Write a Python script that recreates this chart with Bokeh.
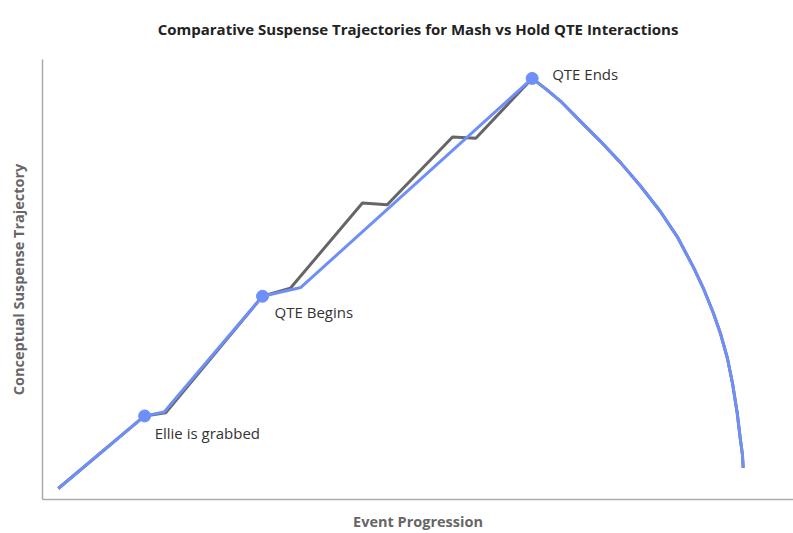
from bokeh.plotting import figure
from bokeh.models import ColumnDataSource, Range1d
from bokeh.embed import file_html
from bokeh.resources import INLINE
from bokeh.core.properties import value

# Event progression (x) and conceptual suspense (y)
descent_x = [67.1, 69.0, 71.6, 74.3, 77.0, 79.6, 82.3, 84.6, 86.7, 88.0,
             89.3, 90.3, 91.2, 91.9, 92.5, 92.9, 93.2, 93.3]
descent_y = [93.2, 90.5, 86.0, 81.4, 76.5, 71.3, 65.4, 59.5, 52.7, 48.0,
             42.5, 37.6, 32.1, 26.2, 19.7, 14.0, 10.2, 7.2]

hold_x = [2.1, 13.6, 16.2, 29.3, 34.4, 65.2] + descent_x
hold_y = [2.5, 19.0, 19.9, 46.2, 48.2, 95.7] + descent_y

mash_x = [2.1, 13.6, 16.4, 29.3, 33.0, 42.6, 45.9, 54.6, 57.7, 65.2] + descent_x
mash_y = [2.5, 19.0, 19.7, 46.2, 48.0, 67.4, 67.0, 82.4, 82.1, 95.7] + descent_y

event_labels = ["Ellie is grabbed", "QTE Begins", "QTE Ends"]
event_x = [13.6, 29.3, 65.2]
event_y = [19.0, 46.2, 95.7]

label_dx = [10, 12, 20]
label_dy = [17, 16, -4]

BLUE = "#6f8ff8"
GREY = "#666666"
FONT = "Open Sans"

p = figure(width=793, height=533, output_backend="svg", toolbar_location=None,
           x_range=Range1d(0, 100), y_range=Range1d(0, 100),
           min_border_left=42, min_border_right=0, min_border_top=58,
           min_border_bottom=33,
           title="Comparative Suspense Trajectories for Mash vs Hold QTE Interactions")
p.title.align = "center"
p.title.vertical_align = "top"
p.title.text_font = FONT
p.title.text_font_size = "15px"
p.title.text_font_style = "bold"
p.title.text_color = "#222222"
p.title.offset = 4
p.title.standoff = 37

p.outline_line_color = None
p.grid.visible = False
p.background_fill_color = "white"
p.border_fill_color = "white"

for ax in (p.xaxis[0], p.yaxis[0]):
    ax.ticker = []
    ax.major_tick_line_color = None
    ax.minor_tick_line_color = None
    ax.axis_line_color = "#aaaaaa"
    ax.axis_line_width = 1.5
    ax.axis_label_text_font = FONT
    ax.axis_label_text_font_size = "14.5px"
    ax.axis_label_text_font_style = "bold"
    ax.axis_label_text_color = "#666666"

p.xaxis.axis_label = "Event Progression"
p.yaxis.axis_label = "Conceptual Suspense Trajectory"
p.xaxis.axis_label_standoff = 12
p.yaxis.axis_label_standoff = 15

p.line(mash_x, mash_y, line_color=GREY, line_width=3, line_join="round")
p.line(hold_x, hold_y, line_color=BLUE, line_width=3, line_join="round")

src = ColumnDataSource(dict(x=event_x, y=event_y, t=event_labels,
                            dx=label_dx, dy=label_dy))
p.scatter("x", "y", source=src, size=12, fill_color=BLUE, line_color=BLUE)
p.text("x", "y", text="t", source=src, x_offset="dx", y_offset="dy",
       text_font=value(FONT), text_font_size="15px", text_color="#333333",
       text_baseline="middle", text_align="left")

open("out.html", "w").write(file_html(p, INLINE))
